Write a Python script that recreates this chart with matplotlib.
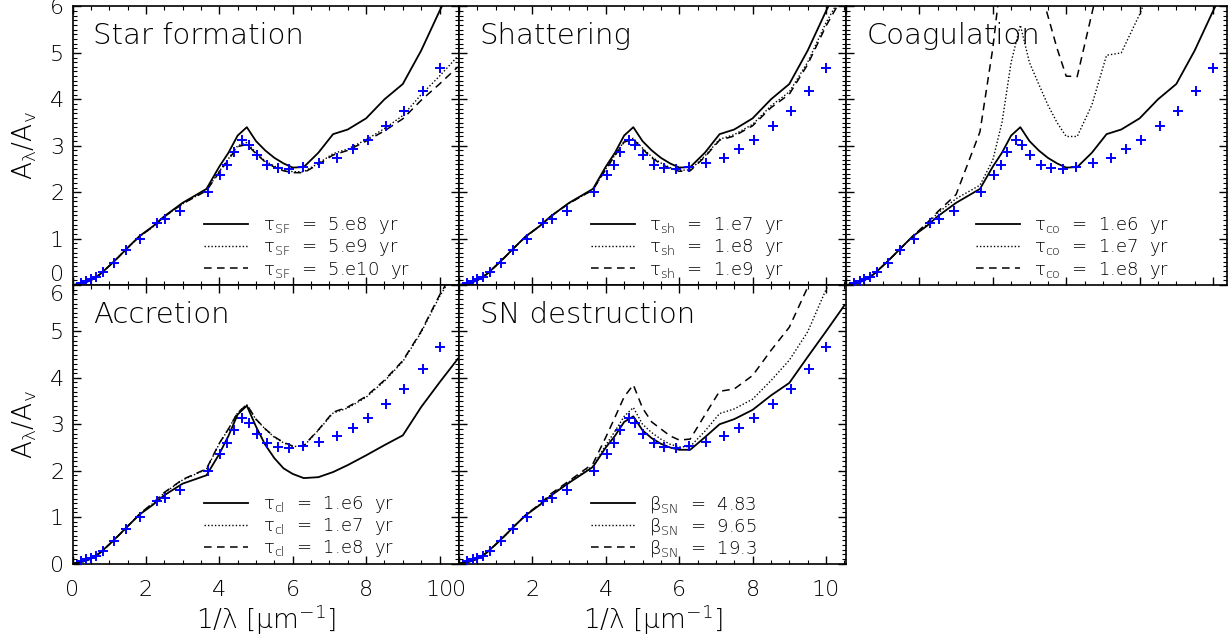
import numpy as np
import matplotlib
matplotlib.use('Agg')
import matplotlib.pyplot as plt
from matplotlib.ticker import MultipleLocator

plt.rcParams['font.family'] = 'DejaVu Sans'
plt.rcParams['font.weight'] = 'light'
plt.rcParams['axes.labelweight'] = 'light'
plt.rcParams['mathtext.fontset'] = 'custom'
plt.rcParams['mathtext.rm'] = 'DejaVu Sans:light'
plt.rcParams['mathtext.it'] = 'DejaVu Sans:italic:light'
plt.rcParams['mathtext.bf'] = 'DejaVu Sans:bold'
plt.rcParams['mathtext.fallback'] = 'stixsans'

# model wavenumber grid [1/um]
x_grid = [0.0, 0.25, 0.5, 0.75, 1.0, 1.25, 1.5, 1.82, 2.2, 2.5, 3.0, 3.65, 4.0, 4.25, 4.5,
          4.75, 5.0, 5.25, 5.5, 5.75, 6.0, 6.3, 6.7, 7.1, 7.5, 8.0, 8.5, 9.0, 9.5, 10.0, 10.5]

# observed extinction curve (blue crosses)
obs_x = [0.23, 0.37, 0.5, 0.65, 0.84, 1.14, 1.46, 1.84, 2.30, 2.53, 2.93, 3.68, 4.02, 4.21, 4.39,
         4.62, 4.80, 5.02, 5.30, 5.59, 5.91, 6.28, 6.73, 7.22, 7.64, 8.04, 8.55, 9.04, 9.55, 10.0]
obs_y = [0.05, 0.09, 0.12, 0.17, 0.27, 0.48, 0.75, 1.0, 1.34, 1.42, 1.59, 2.0, 2.36, 2.59, 2.87,
         3.13, 3.02, 2.80, 2.59, 2.51, 2.49, 2.54, 2.62, 2.74, 2.92, 3.13, 3.43, 3.75, 4.19, 4.67]

# Star formation
sf_5e8 = [0, 0.03, 0.1, 0.23, 0.41, 0.6, 0.8, 1.05, 1.27, 1.48, 1.77, 2.07, 2.55, 2.85, 3.22,
          3.4, 3.1, 2.9, 2.74, 2.62, 2.53, 2.54, 2.85, 3.25, 3.35, 3.59, 4.0, 4.33, 5.05, 5.9, 6.7]
sf_5e9 = [0, 0.03, 0.1, 0.23, 0.41, 0.6, 0.8, 1.04, 1.26, 1.47, 1.75, 2.04, 2.45, 2.72, 3.0,
          3.07, 2.85, 2.67, 2.56, 2.48, 2.44, 2.44, 2.62, 2.83, 2.93, 3.13, 3.37, 3.65, 4.1, 4.5, 4.93]
sf_5e10 = [0, 0.03, 0.1, 0.23, 0.41, 0.6, 0.8, 1.04, 1.26, 1.47, 1.75, 2.03, 2.43, 2.7, 2.98,
           3.03, 2.83, 2.65, 2.54, 2.46, 2.42, 2.42, 2.6, 2.8, 2.9, 3.1, 3.32, 3.58, 3.98, 4.33, 4.7]

# Shattering
sh_1e7 = [0, 0.03, 0.1, 0.23, 0.41, 0.6, 0.8, 1.05, 1.27, 1.48, 1.77, 2.07, 2.55, 2.85, 3.22,
          3.4, 3.1, 2.9, 2.74, 2.62, 2.53, 2.54, 2.85, 3.25, 3.35, 3.59, 4.0, 4.33, 5.05, 5.9, 6.7]
sh_1e8 = [0, 0.03, 0.1, 0.23, 0.41, 0.6, 0.8, 1.04, 1.27, 1.48, 1.76, 2.05, 2.5, 2.8, 3.1,
          3.16, 2.95, 2.76, 2.63, 2.53, 2.47, 2.48, 2.78, 3.14, 3.24, 3.46, 3.86, 4.16, 4.8, 5.65, 6.35]
sh_1e9 = [0, 0.03, 0.1, 0.23, 0.41, 0.6, 0.8, 1.04, 1.27, 1.48, 1.76, 2.05, 2.49, 2.79, 3.08,
          3.14, 2.93, 2.74, 2.61, 2.51, 2.45, 2.46, 2.76, 3.12, 3.21, 3.43, 3.82, 4.11, 4.75, 5.58, 6.28]

# Coagulation
co_1e6 = [0, 0.03, 0.1, 0.23, 0.41, 0.6, 0.8, 1.05, 1.27, 1.48, 1.77, 2.07, 2.55, 2.85, 3.22,
          3.4, 3.1, 2.9, 2.74, 2.62, 2.53, 2.54, 2.85, 3.25, 3.35, 3.59, 4.0, 4.33, 5.05, 5.9, 6.7]
co_1e7 = [0, 0.03, 0.1, 0.23, 0.41, 0.6, 0.8, 1.05, 1.3, 1.55, 1.86, 2.15, 2.69, 3.5, 4.8,
          5.6, 4.79, 4.33, 3.88, 3.5, 3.2, 3.2, 3.88, 4.95, 5.0, 5.83, 6.8, 7.5, 8.2, 9.0, 10.0]
co_1e8 = [0, 0.03, 0.1, 0.23, 0.41, 0.6, 0.8, 1.05, 1.33, 1.58, 1.95, 3.3, 5.1, 6.8, 8.8,
          9.5, 8.2, 6.5, 5.8, 5.1, 4.5, 4.49, 5.85, 7.2, 8.0, 9.0, 10.0, 11.0, 12.0, 13.0, 14.0]

# Accretion
ac_1e6 = [0, 0.03, 0.1, 0.23, 0.41, 0.6, 0.8, 1.05, 1.27, 1.47, 1.72, 1.9, 2.36, 2.75, 3.21,
          3.4, 2.95, 2.56, 2.27, 2.05, 1.93, 1.84, 1.86, 1.97, 2.12, 2.33, 2.55, 2.76, 3.37, 3.9, 4.41]
ac_1e7 = [0, 0.03, 0.1, 0.23, 0.41, 0.6, 0.8, 1.06, 1.3, 1.52, 1.8, 2.03, 2.58, 2.9, 3.25,
          3.42, 3.1, 2.9, 2.72, 2.6, 2.52, 2.53, 2.87, 3.24, 3.35, 3.58, 3.93, 4.35, 4.98, 5.75, 6.4]
ac_1e8 = [0, 0.03, 0.1, 0.23, 0.41, 0.6, 0.8, 1.06, 1.31, 1.53, 1.81, 2.04, 2.59, 2.9, 3.25,
          3.42, 3.11, 2.9, 2.73, 2.61, 2.53, 2.54, 2.88, 3.26, 3.37, 3.6, 3.95, 4.37, 5.0, 5.78, 6.45]

# SN destruction
sn_483 = [0, 0.03, 0.1, 0.23, 0.41, 0.6, 0.8, 1.04, 1.26, 1.46, 1.74, 2.08, 2.5, 2.75, 3.05,
          3.17, 2.87, 2.7, 2.58, 2.5, 2.45, 2.45, 2.72, 3.0, 3.11, 3.31, 3.62, 3.89, 4.45, 5.0, 5.56]
sn_965 = [0, 0.03, 0.1, 0.23, 0.41, 0.6, 0.8, 1.04, 1.27, 1.48, 1.76, 2.1, 2.55, 2.85, 3.17,
          3.36, 3.0, 2.82, 2.68, 2.57, 2.51, 2.52, 2.85, 3.23, 3.33, 3.54, 3.94, 4.38, 4.99, 5.9, 6.7]
sn_193 = [0, 0.03, 0.1, 0.23, 0.41, 0.6, 0.8, 1.05, 1.28, 1.5, 1.78, 2.15, 2.72, 3.15, 3.59,
          3.85, 3.35, 3.05, 2.9, 2.75, 2.66, 2.68, 3.2, 3.71, 3.76, 4.05, 4.59, 5.09, 5.95, 6.8, 7.6]

panels = [
    ('Star formation', [sf_5e8, sf_5e9, sf_5e10],
     [r'$\mathrm{\tau}_{\rm SF}$  =  5.e8  yr', r'$\mathrm{\tau}_{\rm SF}$  =  5.e9  yr',
      r'$\mathrm{\tau}_{\rm SF}$  =  5.e10  yr']),
    ('Shattering', [sh_1e7, sh_1e8, sh_1e9],
     [r'$\mathrm{\tau}_{\rm sh}$  =  1.e7  yr', r'$\mathrm{\tau}_{\rm sh}$  =  1.e8  yr',
      r'$\mathrm{\tau}_{\rm sh}$  =  1.e9  yr']),
    ('Coagulation', [co_1e6, co_1e7, co_1e8],
     [r'$\mathrm{\tau}_{\rm co}$  =  1.e6  yr', r'$\mathrm{\tau}_{\rm co}$  =  1.e7  yr',
      r'$\mathrm{\tau}_{\rm co}$  =  1.e8  yr']),
    ('Accretion', [ac_1e6, ac_1e7, ac_1e8],
     [r'$\mathrm{\tau}_{\rm cl}$  =  1.e6  yr', r'$\mathrm{\tau}_{\rm cl}$  =  1.e7  yr',
      r'$\mathrm{\tau}_{\rm cl}$  =  1.e8  yr']),
    ('SN destruction', [sn_483, sn_965, sn_193],
     [r'$\mathrm{\beta}_{\rm SN}$  =  4.83', r'$\mathrm{\beta}_{\rm SN}$  =  9.65',
      r'$\mathrm{\beta}_{\rm SN}$  =  19.3']),
]

W, H = 1229, 637
fig = plt.figure(figsize=(W / 100, H / 100), dpi=100)

# axes boxes in pixels: left, top, width, height
boxes = [(72.5, 6.5, 386.5, 278.5), (459, 6.5, 387, 278.5), (846, 6.5, 381, 278.5),
         (72.5, 285, 386.5, 278.5), (459, 285, 387, 278.5)]
px_per_unit = 36.7

styles = ['-', (0, (1, 1.5)), (0, (5, 3.5))]
widths = [1.3, 1.0, 1.1]

for i, (title, curves, labels) in enumerate(panels):
    l, t, w, h = boxes[i]
    ax = fig.add_axes([l / W, 1 - (t + h) / H, w / W, h / H])
    ax.plot(obs_x, obs_y, '+', color='#0000ff', ms=7.5, mew=1.4, zorder=3)
    for c, ls, lw, lab in zip(curves, styles, widths, labels):
        ax.plot(x_grid, c, color='black', ls=ls, lw=lw, label=lab)
    ax.set_xlim(0, w / px_per_unit)
    ax.set_ylim(0, 6)
    ax.set_yticks([0, 1, 2, 3, 4, 5, 6])
    ax.xaxis.set_major_locator(MultipleLocator(2))
    ax.xaxis.set_minor_locator(MultipleLocator(0.5))
    ax.yaxis.set_minor_locator(MultipleLocator(0.1))
    ax.tick_params(which='both', direction='in', top=True, right=True, labelsize=16)
    ax.tick_params(which='major', length=6, width=1.0)
    ax.tick_params(which='minor', length=3, width=0.8)
    ax.tick_params(axis='x', pad=12)
    ax.tick_params(axis='y', pad=6)
    for s in ax.spines.values():
        s.set_linewidth(1.2)

    ax.text(0.053, 0.865, title, transform=ax.transAxes, fontsize=21, va='baseline')
    ax.legend(loc='lower left', bbox_to_anchor=(0.34, 0.016), frameon=False, fontsize=13,
              handlelength=2.45, handletextpad=0.8, labelspacing=0.06, borderpad=0,
              borderaxespad=0)

    if i in (0, 3):
        ax.set_ylabel(r'A$_\mathrm{\lambda}$/A$_{\rm v}$', fontsize=19, labelpad=8)
        labs = ax.get_yticklabels()
        if i == 0:
            labs[0].set_verticalalignment('bottom')
        else:
            labs[-1].set_verticalalignment('top')
    else:
        ax.set_yticklabels([])
    if i in (3, 4):
        ax.set_xlabel(r'1/λ [μm$^{-1}$]', fontsize=19, labelpad=2)
    else:
        ax.set_xticklabels([])

fig.savefig('out.png', dpi=100)
